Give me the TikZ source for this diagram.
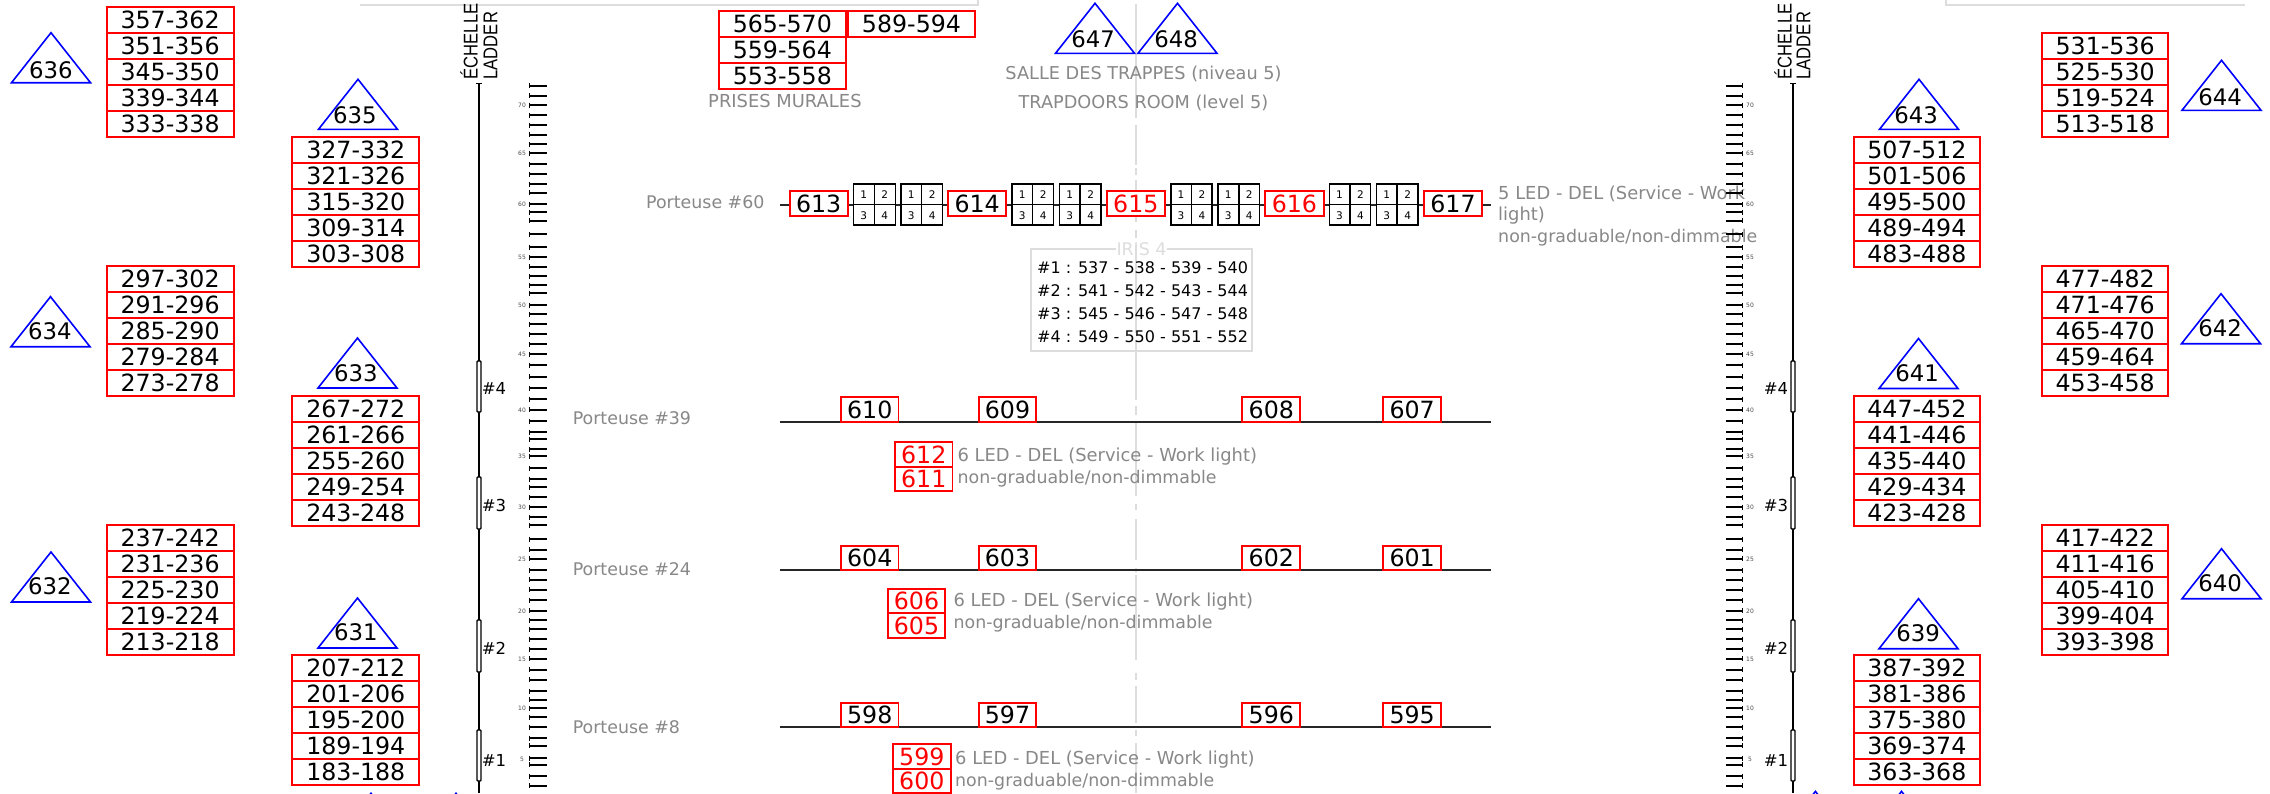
\documentclass[tikz,border=0pt]{standalone}
\usepackage{graphicx}
\usepackage{fontspec}
\setmainfont{DejaVu Sans}
\newfontfamily\ladderfont{Liberation Sans}
\newcommand\fsz[1]{\fontsize{#1}{#1}\selectfont}
\definecolor{txtgray}{HTML}{888888}
\definecolor{pale}{HTML}{DDDDDD}
\tikzset{
  numbox/.style={draw=red,line width=1.8pt,fill=white,inner sep=0pt,font=\fsz{23.7},text=black,text height=17.3pt,text depth=0pt,align=center},
  rednum/.style={numbox,text=red},
  trilab/.style={inner sep=0pt,font=\fsz{22.8},text=black,text height=16.6pt,text depth=0pt},
  tripath/.style={draw=blue,line width=1.6pt,line join=miter},
  graytxt/.style={inner sep=0pt,font=\fsz{17.4},text=txtgray,text height=12.7pt,text depth=0pt},
  graywide/.style={graytxt,font=\fsz{17.9}},
  palelin/.style={draw=pale,line width=2pt},
  carrier/.style={draw=black!85,line width=2pt},
  ticklab/.style={inner sep=0pt,font=\fsz{6},text=black!70},
  rung/.style={draw=black,line width=2pt},
  rungcap/.style={draw=black,line width=1pt},
  railseg/.style={draw=black,line width=1.4pt,fill=white,rounded corners=0.8pt},
  rail/.style={draw=black,line width=2pt},
  seclab/.style={inner sep=0pt,font=\fsz{16.5},text=black},
  ladlab/.style={inner sep=0pt,font=\ladderfont\fsz{16.6},text=black,rotate=90,anchor=west},
  irisframe/.style={draw=black,line width=1.6pt,fill=white},
  irisnum/.style={inner sep=0pt,font=\fsz{10.5},text=black},
  tablerow/.style={inner sep=0pt,font=\fsz{16},text=black,anchor=west,text height=11.7pt,text depth=0pt},
}
\newcommand\stk[4]{%
  \foreach \lab [count=\i from 0] in {#4}{%
    \node[numbox,minimum width={(#2-#1)*1pt},minimum height=26pt] (b\lab) at ({(#1+#2)/2},{#3+13+26*\i}) {\lab};}}
\newcommand\tri[5]{%
  \path[tripath] (#2,#3) -- ({#2-39.5},{#3+50}) -- ({#2+39.5},{#3+50}) -- cycle;
  \node[trilab] (t#1) at (#4,#5) {#1};}
\newcommand\bx[6][numbox]{%
  \node[#1,minimum width={(#4-#3)*1pt},minimum height={(#6-#5)*1pt}] (b#2) at ({(#3+#4)/2},{(#5+#6)/2}) {#2};}
\newcommand\iris[3]{%
  \node[irisframe,inner sep=0pt,minimum width={(#3-#2)*1pt},minimum height=41.3pt] (g#1) at ({(#2+#3)/2},204.6) {};
  \draw[black,line width=1.6pt] (g#1.north) -- (g#1.south) (g#1.west) -- (g#1.east);
  \node[irisnum] at ($(g#1.center)+(-10.5,-10.4)$) {1};
  \node[irisnum] at ($(g#1.center)+(10.5,-10.4)$) {2};
  \node[irisnum] at ($(g#1.center)+(-10.5,10.6)$) {3};
  \node[irisnum] at ($(g#1.center)+(10.5,10.6)$) {4};}
\usetikzlibrary{calc}
\begin{document}
\begin{tikzpicture}[x=1pt,y=-1pt]
\path[use as bounding box] (0,0) rectangle (2270,793);
\clip (0,0) rectangle (2270,793);
\fill[white] (0,0) rectangle (2270,793);

% top frame lines
\coordinate (fa) at (360,4.5); \coordinate (fb) at (978,4.5); \coordinate (fc) at (978,0);
\coordinate (fd) at (1946,4.5); \coordinate (fe) at (2245,4.5); \coordinate (ff) at (1946,0);
\draw[palelin] (fa) -- (fb) -- (fc);
\draw[palelin] (ff) -- (fd) -- (fe);

% centre axis
\foreach \a/\b in {4/118,125/165,168/175,180/222,230/238,245/333,340/400,406/415,421/496,504/510,519/560,568/572,575/660,673/680,686/723,730/736,743/793}
  \draw[palelin] (1136,\a) -- (1136,\b);

% iris frame
\draw[palelin] (1116,249) -- (1030.7,249) -- (1030.7,351) -- (1252,351) -- (1252,249) -- (1167,249);
\node[inner sep=0pt,font=\fsz{17.4},text=pale] (iristitle) at (1141.5,249) {IRIS 4};
\node[tablerow] (r1) at (1037,268) {\#1 : 537 - 538 - 539 - 540};
\node[tablerow] (r2) at (1037,291) {\#2 : 541 - 542 - 543 - 544};
\node[tablerow] (r3) at (1037,313.5) {\#3 : 545 - 546 - 547 - 548};
\node[tablerow] (r4) at (1037,337) {\#4 : 549 - 550 - 551 - 552};

% grey labels
\node[graywide,anchor=west] (lp) at (708,100.7) {PRISES MURALES};
\node[graytxt,font=\fsz{17.7}] (ls) at (1143.5,73.3) {SALLE DES TRAPPES (niveau 5)};
\node[graytxt,font=\fsz{17.7}] (lt) at (1143.5,101.7) {TRAPDOORS ROOM (level 5)};
\node[graytxt,anchor=west] (p60) at (646,201.7) {Porteuse \#60};
\node[graytxt,anchor=west] (p39) at (572.6,418) {Porteuse \#39};
\node[graytxt,anchor=west] (p24) at (572.6,569) {Porteuse \#24};
\node[graytxt,anchor=west] (p8) at (572.6,727) {Porteuse \#8};
\node[graywide,anchor=west] (n5a) at (1498,192.7) {5 LED - DEL (Service - Work};
\node[graywide,anchor=west] (n5b) at (1498,214) {light)};
\node[graytxt,anchor=west] (n5c) at (1498,236) {non-graduable/non-dimmable};
\node[graywide,anchor=west] (n39a) at (957.4,455) {6 LED - DEL (Service - Work light)};
\node[graytxt,anchor=west] (n39b) at (957.4,476.7) {non-graduable/non-dimmable};
\node[graywide,anchor=west] (n24a) at (953.4,600) {6 LED - DEL (Service - Work light)};
\node[graytxt,anchor=west] (n24b) at (953.4,621.7) {non-graduable/non-dimmable};
\node[graywide,anchor=west] (n8a) at (955,758) {6 LED - DEL (Service - Work light)};
\node[graytxt,anchor=west] (n8b) at (955,780) {non-graduable/non-dimmable};

% stacks left
\stk{106.6}{233.6}{7}{357-362,351-356,345-350,339-344,333-338}
\stk{106.6}{233.6}{265.7}{297-302,291-296,285-290,279-284,273-278}
\stk{106.6}{233.6}{524.7}{237-242,231-236,225-230,219-224,213-218}
\stk{292.3}{419.3}{136.7}{327-332,321-326,315-320,309-314,303-308}
\stk{292.3}{419.3}{395.7}{267-272,261-266,255-260,249-254,243-248}
\stk{292.3}{419.3}{654.7}{207-212,201-206,195-200,189-194,183-188}
% stacks right
\stk{1853.7}{1980}{136.7}{507-512,501-506,495-500,489-494,483-488}
\stk{1853.7}{1980}{395.7}{447-452,441-446,435-440,429-434,423-428}
\stk{1853.7}{1980}{654.7}{387-392,381-386,375-380,369-374,363-368}
\stk{2042}{2168.3}{33.3}{531-536,525-530,519-524,513-518}
\stk{2042}{2168.3}{265.7}{477-482,471-476,465-470,459-464,453-458}
\stk{2042}{2168.3}{524.7}{417-422,411-416,405-410,399-404,393-398}
% stacks top
\stk{719}{845.7}{10.7}{565-570,559-564,553-558}
\stk{848}{975}{10.7}{589-594}

% triangles
\tri{636}{51}{32.7}{51}{70}
\tri{634}{50.5}{296.7}{50}{331}
\tri{632}{51}{552}{50}{586}
\tri{635}{358}{79.3}{355}{115}
\tri{633}{357.5}{338}{356}{372.7}
\tri{631}{357.5}{598}{356}{632}
\tri{643}{1919}{79.3}{1916}{115}
\tri{641}{1918.5}{338.5}{1917}{373}
\tri{639}{1918.5}{598.7}{1918}{633}
\tri{644}{2221.5}{60.3}{2220}{97}
\tri{642}{2221}{293.7}{2220}{328}
\tri{640}{2221.5}{548.7}{2220}{583}
\tri{647}{1095}{3.3}{1093}{39.5}
\tri{648}{1177.5}{3.3}{1176}{39.5}

% cut-off triangles at the lower edge
\foreach \x/\y in {371/793.3,456/793.3,1815.4/791.4,1901.5/791.4}
  \path[tripath] (\x,\y) -- ({\x-39.5},{\y+50}) -- ({\x+39.5},{\y+50}) -- cycle;

% carriers
\coordinate (c60a) at (780,204.6); \coordinate (c60b) at (1490.7,204.6);
\coordinate (c39a) at (780,421.5); \coordinate (c39b) at (1490.7,421.5);
\coordinate (c24a) at (780,570); \coordinate (c24b) at (1490.7,570);
\coordinate (c8a) at (780,727.3); \coordinate (c8b) at (1490.7,727.3);
\draw[carrier] (c60a) -- (c60b);
\draw[carrier] (c39a) -- (c39b);
\draw[carrier] (c24a) -- (c24b);
\draw[carrier] (c8a) -- (c8b);

\iris{a}{853.3}{895.3}\iris{b}{901}{942.3}\iris{c}{1012}{1053.3}\iris{d}{1059.3}{1101}
\iris{e}{1171}{1212}\iris{f}{1218}{1259.5}\iris{g}{1329.5}{1370.6}\iris{h}{1376.4}{1418}

\bx{613}{789.7}{847.7}{191}{215.7}
\bx{614}{948.3}{1006}{191}{215.7}
\bx[rednum]{615}{1106.8}{1164.8}{191}{215.7}
\bx[rednum]{616}{1265}{1323.8}{191}{215.7}
\bx{617}{1424}{1482}{191}{215.7}

\foreach \l/\a/\b in {610/841/898.5,609/979/1036,608/1242.3/1300.3,607/1383.3/1441}
  {\bx{\l}{\a}{\b}{397.3}{422}}
\foreach \l/\a/\b in {604/841/898.5,603/979/1036,602/1242.3/1300.3,601/1383.3/1441}
  {\bx{\l}{\a}{\b}{545.7}{570}}
\foreach \l/\a/\b in {598/841/898.5,597/979/1036,596/1242.3/1300.3,595/1383.3/1441}
  {\bx{\l}{\a}{\b}{702.7}{727.3}}

\bx[rednum]{612}{895}{952.5}{442.3}{466.7}
\bx[rednum]{611}{895}{952.5}{466.7}{491.3}
\bx[rednum]{606}{888}{945}{588.7}{613.3}
\bx[rednum]{605}{888}{945}{613.3}{637.7}
\bx[rednum]{599}{893}{950.7}{744.3}{768.7}
\bx[rednum]{600}{893}{950.7}{768.7}{793.3}

% ticks
\foreach \y in {85.5,95.5,105,115.3,125,134.5,144.3,153,164.3,174,184,192.5,204,212.2,220.5,234.3,247.3,257.3,266.7,276,285,293.3,305,314.3,324,334.3,344.3,354,365,376.7,388.3,399,409.7,421.3,432.3,439,449,456.3,468,479,487.3,497,507,517,525.3,539,549.7,558.7,570.3,579.7,589.7,600.3,610.7,620.3,629,639,649,658.7,669.7,679.7,691.3,699.7,708,717,727.3,738,745.7,758,764.7,776.3,785.7}{%
  \draw[rung] (529,\y) -- (547,\y);
  \draw[rungcap] (529.5,\y-2.5) -- (529.5,\y+2.5);
  \draw[rung] (1726,\y) -- (1743,\y);
  \draw[rungcap] (1742.5,\y-2.5) -- (1742.5,\y+2.5);
}
\foreach \v/\y in {70/105,65/153,60/204,55/257.3,50/305,45/354,40/410,35/456.3,30/507,25/559,20/611,15/659,10/708,5/759}{%
  \node[ticklab] (tl\v) at (522,\y) {\v};
  \node[ticklab] (tr\v) at (1750,\y) {\v};
}

% ladders
\foreach \n/\x/\lx/\ex/\ly in {L/479/494/469/490.5,R/1793/1776/1783/1803.5}{%
  \coordinate (top\n) at (\x,83.5); \coordinate (bot\n) at (\x,793);
  \draw[rail] (top\n) -- (bot\n);
  \draw[rungcap,line width=1.4pt] (\x-3,83.5) -- (\x+3,83.5);
  \foreach \a/\b/\m/\t in {361/412/388/4,477/529/505/3,620/672/648/2,730/781/760/1}{%
    \draw[railseg] (\x-2,\a) rectangle (\x+2,\b);
    \node[seclab] (sec\n\t) at (\lx,\m) {\#\t};
  }
  \node[ladlab] (ech\n) at (\ex,79.5) {\scalebox{1}[1.2]{ÉCHELLE}};
  \node[ladlab] (lad\n) at (\ly,79.5) {\scalebox{1}[1.2]{LADDER}};
}
\end{tikzpicture}
\end{document}
